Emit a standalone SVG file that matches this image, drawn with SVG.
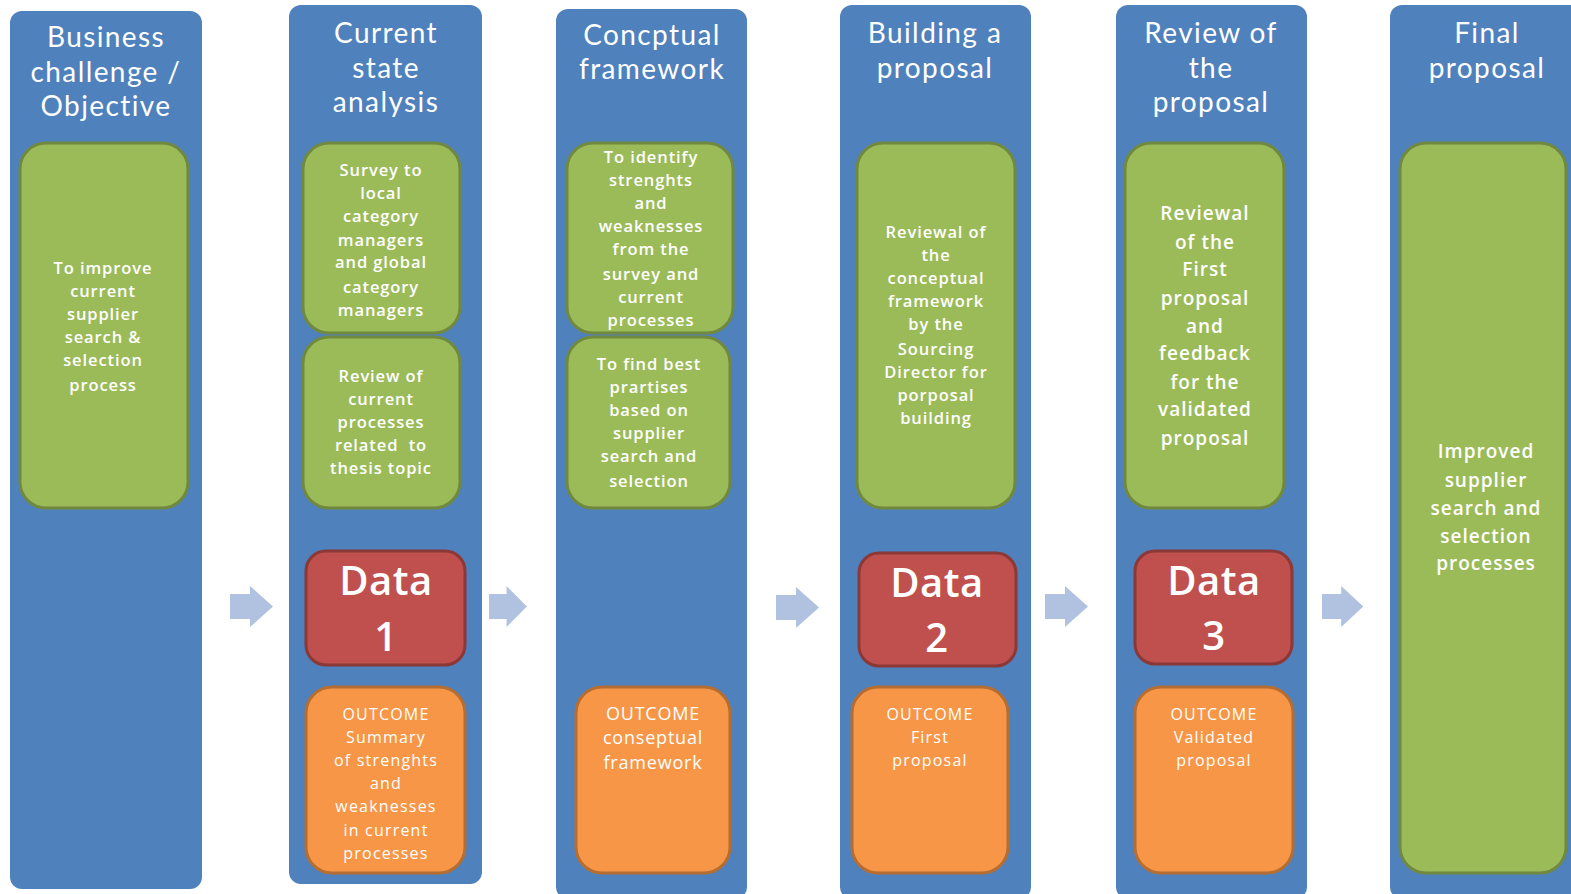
<svg xmlns="http://www.w3.org/2000/svg" xmlns:xlink="http://www.w3.org/1999/xlink" width="1571" height="894" viewBox="0 0 1571 894">
<style>
.col{fill:#4F81BD;}
.grn{fill:#9BBB59;stroke:#71893F;stroke-width:3;}
.red{fill:#C0504D;stroke:#8C3836;stroke-width:3;}
.org{fill:#F79646;stroke:#B66D31;stroke-width:3;}
.arr{fill:#B0C2DF;}
text{font-family:"Open Sans","Liberation Sans",sans-serif;fill:#FFFFFF;text-anchor:middle;}
.title{font-family:Lato,"Open Sans",sans-serif;font-size:28px;letter-spacing:1.4px;}
.sm{font-size:16.5px;font-weight:600;letter-spacing:0.9px;}
.md{font-size:19px;font-weight:600;letter-spacing:1px;}
.osm{font-size:16px;letter-spacing:1.2px;}
.omd{font-size:18px;letter-spacing:0.8px;}
.data{font-size:40px;font-weight:600;letter-spacing:0.5px;}
</style>
<defs>
<path id="arrow" d="M0,8 H20 V0 L43,20.5 L20,41 V33 H0 Z"/>
</defs>
<rect width="1571" height="894" fill="#FFFFFF"/>

<g id="col1">
<rect class="col" x="10" y="11" width="192" height="878" rx="12"/>
<text class="title"><tspan x="106" y="47">Business</tspan><tspan x="106" y="82">challenge /</tspan><tspan x="106" y="116">Objective</tspan></text>
<rect class="grn" x="20" y="143" width="168" height="365" rx="26"/>
<text class="sm"><tspan x="103" y="274">To improve</tspan><tspan x="103" y="297">current</tspan><tspan x="103" y="320">supplier</tspan><tspan x="103" y="343">search &amp;</tspan><tspan x="103" y="366">selection</tspan><tspan x="103" y="391">process</tspan></text>
</g>

<g id="col2">
<rect class="col" x="289" y="5" width="193" height="879" rx="12"/>
<text class="title"><tspan x="386" y="43">Current</tspan><tspan x="386" y="78">state</tspan><tspan x="386" y="112">analysis</tspan></text>
<rect class="grn" x="303" y="143" width="157" height="190" rx="26"/>
<text class="sm"><tspan x="381" y="176">Survey to</tspan><tspan x="381" y="199">local</tspan><tspan x="381" y="222">category</tspan><tspan x="381" y="246">managers</tspan><tspan x="381" y="268">and global</tspan><tspan x="381" y="293">category</tspan><tspan x="381" y="316">managers</tspan></text>
<rect class="grn" x="303" y="337" width="157" height="171" rx="26"/>
<text class="sm"><tspan x="381" y="382">Review of</tspan><tspan x="381" y="405">current</tspan><tspan x="381" y="428">processes</tspan><tspan x="381" y="451" xml:space="preserve">related  to</tspan><tspan x="381" y="474">thesis topic</tspan></text>
<rect class="red" x="306" y="551" width="159" height="114" rx="20"/>
<text class="data"><tspan x="386" y="595">Data</tspan><tspan x="386" y="651">1</tspan></text>
<rect class="org" x="306" y="687" width="159" height="186" rx="26"/>
<text class="osm"><tspan x="386" y="720">OUTCOME</tspan><tspan x="386" y="743">Summary</tspan><tspan x="386" y="766">of strenghts</tspan><tspan x="386" y="789">and</tspan><tspan x="386" y="812">weaknesses</tspan><tspan x="386" y="836">in current</tspan><tspan x="386" y="859">processes</tspan></text>
</g>

<g id="col3">
<rect class="col" x="556" y="9" width="191" height="890" rx="12"/>
<text class="title"><tspan x="652" y="45">Concptual</tspan><tspan x="652" y="79">framework</tspan></text>
<rect class="grn" x="567" y="143" width="166" height="190" rx="26"/>
<text class="sm"><tspan x="651" y="163">To identify</tspan><tspan x="651" y="186">strenghts</tspan><tspan x="651" y="209">and</tspan><tspan x="651" y="232">weaknesses</tspan><tspan x="651" y="255">from the</tspan><tspan x="651" y="280">survey and</tspan><tspan x="651" y="303">current</tspan><tspan x="651" y="326">processes</tspan></text>
<rect class="grn" x="567" y="337" width="163" height="171" rx="26"/>
<text class="sm"><tspan x="649" y="370">To find best</tspan><tspan x="649" y="393">prartises</tspan><tspan x="649" y="416">based on</tspan><tspan x="649" y="439">supplier</tspan><tspan x="649" y="462">search and</tspan><tspan x="649" y="487">selection</tspan></text>
<rect class="org" x="576" y="687" width="154" height="186" rx="26"/>
<text class="omd"><tspan x="653" y="720">OUTCOME</tspan><tspan x="653" y="744">conseptual</tspan><tspan x="653" y="769">framework</tspan></text>
</g>

<g id="col4">
<rect class="col" x="840" y="5" width="191" height="894" rx="12"/>
<text class="title"><tspan x="935" y="43">Building a</tspan><tspan x="935" y="78">proposal</tspan></text>
<rect class="grn" x="857" y="143" width="158" height="365" rx="26"/>
<text class="sm"><tspan x="936" y="238">Reviewal of</tspan><tspan x="936" y="261">the</tspan><tspan x="936" y="284">conceptual</tspan><tspan x="936" y="307">framework</tspan><tspan x="936" y="330">by the</tspan><tspan x="936" y="355">Sourcing</tspan><tspan x="936" y="378">Director for</tspan><tspan x="936" y="401">porposal</tspan><tspan x="936" y="424">building</tspan></text>
<rect class="red" x="859" y="553" width="157" height="113" rx="20"/>
<text class="data"><tspan x="937" y="597">Data</tspan><tspan x="937" y="652">2</tspan></text>
<rect class="org" x="852" y="687" width="156" height="186" rx="26"/>
<text class="osm"><tspan x="930" y="720">OUTCOME</tspan><tspan x="930" y="743">First</tspan><tspan x="930" y="766">proposal</tspan></text>
</g>

<g id="col5">
<rect class="col" x="1116" y="5" width="191" height="894" rx="12"/>
<text class="title"><tspan x="1211" y="43">Review of</tspan><tspan x="1211" y="78">the</tspan><tspan x="1211" y="112">proposal</tspan></text>
<rect class="grn" x="1125" y="143" width="159" height="365" rx="26"/>
<text class="md"><tspan x="1205" y="220">Reviewal</tspan><tspan x="1205" y="249">of the</tspan><tspan x="1205" y="276">First</tspan><tspan x="1205" y="305">proposal</tspan><tspan x="1205" y="333">and</tspan><tspan x="1205" y="360">feedback</tspan><tspan x="1205" y="389">for the</tspan><tspan x="1205" y="416">validated</tspan><tspan x="1205" y="445">proposal</tspan></text>
<rect class="red" x="1135" y="551" width="157" height="113" rx="20"/>
<text class="data"><tspan x="1214" y="595">Data</tspan><tspan x="1214" y="650">3</tspan></text>
<rect class="org" x="1135" y="687" width="158" height="186" rx="26"/>
<text class="osm"><tspan x="1214" y="720">OUTCOME</tspan><tspan x="1214" y="743">Validated</tspan><tspan x="1214" y="766">proposal</tspan></text>
</g>

<g id="col6">
<rect class="col" x="1390" y="5" width="200" height="894" rx="12"/>
<text class="title"><tspan x="1487" y="43">Final</tspan><tspan x="1487" y="78">proposal</tspan></text>
<rect class="grn" x="1400" y="143" width="166" height="730" rx="26"/>
<text class="md"><tspan x="1486" y="458">Improved</tspan><tspan x="1486" y="487">supplier</tspan><tspan x="1486" y="515">search and</tspan><tspan x="1486" y="543">selection</tspan><tspan x="1486" y="570">processes</tspan></text>
</g>

<g id="connectors">
<use xlink:href="#arrow" class="arr" transform="translate(230,586)"/>
<use xlink:href="#arrow" class="arr" transform="translate(489,586) scale(0.88,1)"/>
<use xlink:href="#arrow" class="arr" transform="translate(776,587)"/>
<use xlink:href="#arrow" class="arr" transform="translate(1045,586)"/>
<use xlink:href="#arrow" class="arr" transform="translate(1322,586) scale(0.96,1)"/>
</g>
</svg>
